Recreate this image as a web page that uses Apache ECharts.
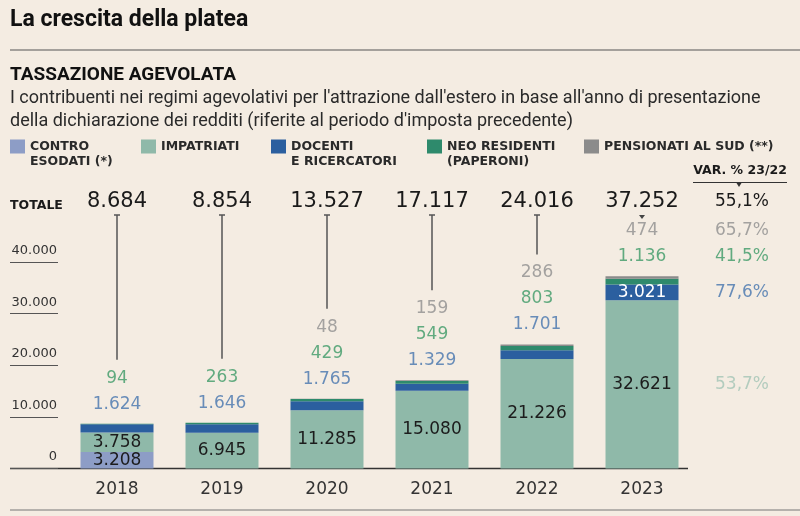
<!DOCTYPE html>
<html><head><meta charset="utf-8">
<script src="https://cdn.jsdelivr.net/npm/echarts@6/dist/echarts.min.js"></script>
<style>html,body{margin:0;padding:0;background:#f4ece2}#c{width:800px;height:516px}</style>
</head><body><div id="c"></div><script>
// ---- data ----
const years = ['2018', '2019', '2020', '2021', '2022', '2023'];
const totals = [8684, 8854, 13527, 17117, 24016, 37252];
const controEsodati = [3208, null, null, null, null, null];
const impatriati = [3758, 6945, 11285, 15080, 21226, 32621];
const docenti = [1624, 1646, 1765, 1329, 1701, 3021];
const neoResidenti = [94, 263, 429, 549, 803, 1136];
const pensionati = [null, null, 48, 159, 286, 474];
const varTotale = '55,1%';
const varPensionati = '65,7%';
const varNeo = '41,5%';
const varDocenti = '77,6%';
const varImpatriati = '53,7%';
const seriesNames = ['CONTRO\nESODATI (*)', 'IMPATRIATI', 'DOCENTI\nE RICERCATORI', 'NEO RESIDENTI\n(PAPERONI)', 'PENSIONATI AL SUD (**)'];

// ---- helpers ----
const FONT = 'DejaVu Sans';
const fmt = v => String(v).replace(/\B(?=(\d{3})+(?!\d))/g, '.');
const C = {
  contro: '#8d9dc6', impat: '#8fb9a9', docenti: '#2b5f9f', neo: '#2e8a6c', pens: '#8b8b8b',
  tPens: '#8e8e8e', tNeo: '#3c9a66', tDoc: '#4574ae', tImpat: '#a3c4b5'
};
const docInside = docenti.map(v => v >= 2500);
const aboveLines = years.map((y, i) => {
  const l = [];
  if (pensionati[i]) l.push('{p|' + fmt(pensionati[i]) + '}');
  if (neoResidenti[i]) l.push('{g|' + fmt(neoResidenti[i]) + '}');
  if (!docInside[i]) l.push('{b|' + fmt(docenti[i]) + '}');
  return l;
});
const richStyles = {
  p: { color: C.tPens, fontSize: 17, lineHeight: 26, fontFamily: FONT },
  g: { color: C.tNeo, fontSize: 17, lineHeight: 26, fontFamily: FONT },
  b: { color: C.tDoc, fontSize: 17, lineHeight: 26, fontFamily: FONT },
  t: { color: C.tImpat, fontSize: 17, lineHeight: 26, fontFamily: FONT },
  k: { color: '#1a1a1a', fontSize: 17, lineHeight: 26, fontFamily: FONT }
};
const last = years.length - 1;

const chart = echarts.init(document.getElementById('c'), null, { renderer: 'canvas' });

const legendCommon = {
  orient: 'horizontal', itemWidth: 15, itemHeight: 14, itemGap: 0, padding: 0,
  icon: 'rect', selectedMode: false,
  textStyle: { fontFamily: FONT, fontWeight: 'bold', fontSize: 12.5, color: '#2a2a2a', lineHeight: 15 }
};
const leg = (left, idx, two) => Object.assign({}, legendCommon, {
  left: left, top: two ? 124 : 139, data: [seriesNames[idx]],
  formatter: two ? (n => '\n' + n) : (n => n)
});

const barLabel = { show: true, position: 'inside', color: '#1c1c1c', fontSize: 17, fontFamily: FONT, formatter: p => fmt(p.value) };

chart.setOption({
  animation: false,
  backgroundColor: '#f4ece2',
  title: [
    { text: 'La crescita della platea', left: 10, top: 9, padding: 0,
      textStyle: { fontFamily: 'Roboto', fontWeight: 'bold', fontSize: 23, color: '#111' } },
    { text: 'TASSAZIONE AGEVOLATA', left: 10, top: 66, padding: 0,
      textStyle: { fontFamily: 'Roboto', fontWeight: 'bold', fontSize: 19, color: '#111' } },
    { text: "I contribuenti nei regimi agevolativi per l'attrazione dall'estero in base all'anno di presentazione\ndella dichiarazione dei redditi (riferite al periodo d'imposta precedente)",
      left: 10, top: 87, padding: 0,
      textStyle: { fontFamily: 'Roboto', fontWeight: 'normal', fontSize: 18, lineHeight: 23, color: '#2a2a2a' } }
  ],
  legend: [
    leg(10, 0, true), leg(141, 1, false), leg(271, 2, true), leg(427, 3, true), leg(584, 4, false)
  ],
  grid: [
    { left: 64.5, width: 630, top: 210.5, height: 258 },
    { left: 10, width: 48, top: 262.1, height: 206.4 }
  ],
  xAxis: [
    { type: 'category', gridIndex: 0, data: years, position: 'bottom',
      axisLine: { show: false }, axisTick: { show: false },
      axisLabel: { margin: 13, fontSize: 17, fontFamily: FONT, color: '#333' } },
    { type: 'category', gridIndex: 0, data: years, position: 'top',
      axisLine: { show: false }, axisTick: { show: false },
      axisLabel: { margin: 8.5, verticalAlign: 'middle', fontSize: 21, fontFamily: FONT, color: '#1a1a1a',
        formatter: (v, i) => fmt(totals[i]) } },
    { type: 'value', gridIndex: 1, show: false, min: 0, max: 1 }
  ],
  yAxis: [
    { type: 'value', gridIndex: 0, min: 0, max: 50000, interval: 10000, show: false, splitLine: { show: false } },
    { type: 'value', gridIndex: 1, min: 0, max: 40000, interval: 10000, position: 'right',
      axisLine: { show: false }, axisTick: { show: false },
      splitLine: { show: true, lineStyle: { color: '#555', width: 1 } },
      axisLabel: { inside: true, margin: 1, verticalAlign: 'bottom', padding: [0, 0, 5, 0],
        fontSize: 13, fontFamily: FONT, color: '#333', formatter: v => fmt(v) } }
  ],
  series: [
    { name: seriesNames[0], type: 'bar', stack: 'tot', barWidth: 73, data: controEsodati,
      itemStyle: { color: C.contro }, label: barLabel },
    { name: seriesNames[1], type: 'bar', stack: 'tot', barWidth: 73, data: impatriati,
      itemStyle: { color: C.impat }, label: barLabel },
    { name: seriesNames[2], type: 'bar', stack: 'tot', barWidth: 73,
      data: docenti.map((v, i) => ({ value: v, label: { show: docInside[i] } })),
      itemStyle: { color: C.docenti },
      label: { position: 'inside', color: '#fff', fontSize: 17, fontFamily: FONT, formatter: p => fmt(p.value) } },
    { name: seriesNames[3], type: 'bar', stack: 'tot', barWidth: 73, data: neoResidenti,
      itemStyle: { color: C.neo } },
    { name: seriesNames[4], type: 'bar', stack: 'tot', barWidth: 73, data: pensionati,
      itemStyle: { color: C.pens } },
    { name: 'etichette', type: 'scatter', symbolSize: 0, z: 5, silent: true,
      data: totals.map((t, i) => [i, t]),
      label: { show: true, position: 'top', distance: 6.5, rich: richStyles,
        formatter: p => aboveLines[p.dataIndex].join('\n') } },
    { name: 'var', type: 'scatter', symbolSize: 0, z: 5, silent: true,
      data: [
        { value: [last, totals[last]], label: { position: 'top', distance: 6.5, formatter: '{p|' + varPensionati + '}\n{g|' + varNeo + '}' } },
        { value: [last, (controEsodati[last] || 0) + impatriati[last] + docenti[last] / 2], label: { position: 'inside', formatter: '{b|' + varDocenti + '}' } },
        { value: [last, (controEsodati[last] || 0) + impatriati[last] / 2], label: { position: 'inside', formatter: '{t|' + varImpatriati + '}' } }
      ],
      label: { show: true, offset: [100, 0], rich: richStyles } },
    { name: 'connettori', type: 'custom', z: 4, silent: true,
      data: totals.map((t, i) => [i, t, aboveLines[i].length]),
      encode: { x: 0, y: 1 },
      renderItem: (params, api) => {
        const pt = api.coord([api.value(0), api.value(1)]);
        const n = api.value(2);
        const x = pt[0];
        const y0 = params.coordSys.y + 4.5;
        const y1 = pt[1] - 20 - 26 * (n - 1) - 18;
        if (y1 - y0 > 8) {
          return { type: 'group', children: [
            { type: 'line', shape: { x1: x, y1: y0, x2: x, y2: y1 }, style: { stroke: '#555', lineWidth: 1.5 } },
            { type: 'line', shape: { x1: x - 3, y1: y0, x2: x + 3, y2: y0 }, style: { stroke: '#555', lineWidth: 1.5 } }
          ] };
        }
        return { type: 'polygon', shape: { points: [[x - 3, y0], [x + 3, y0], [x, y0 + 4]] }, style: { fill: '#444' } };
      } }
  ],
  graphic: [
    { type: 'line', shape: { x1: 10, y1: 50, x2: 800, y2: 50 }, style: { stroke: '#555', lineWidth: 1 } },
    { type: 'line', shape: { x1: 10, y1: 468.5, x2: 688, y2: 468.5 }, style: { stroke: '#333', lineWidth: 1.5 } },
    { type: 'line', shape: { x1: 10, y1: 510, x2: 800, y2: 510 }, style: { stroke: '#777', lineWidth: 1 } },
    { type: 'text', left: 10, top: 199, style: { text: 'TOTALE', font: 'bold 12.5px "DejaVu Sans"', fill: '#1a1a1a' } },
    { type: 'text', x: 740, y: 171, style: { text: 'VAR. % 23/22', font: 'bold 12.5px "DejaVu Sans"', fill: '#1a1a1a', align: 'center', verticalAlign: 'middle' } },
    { type: 'line', shape: { x1: 693, y1: 182.5, x2: 787, y2: 182.5 }, style: { stroke: '#333', lineWidth: 1 } },
    { type: 'polygon', shape: { points: [[736.5, 183], [741.5, 183], [739, 187]] }, style: { fill: '#333' } },
    { type: 'text', x: 742, y: 202, style: { text: varTotale, font: '17px "DejaVu Sans"', fill: '#1a1a1a', align: 'center', verticalAlign: 'middle' } }
  ]
});
</script></body></html>
